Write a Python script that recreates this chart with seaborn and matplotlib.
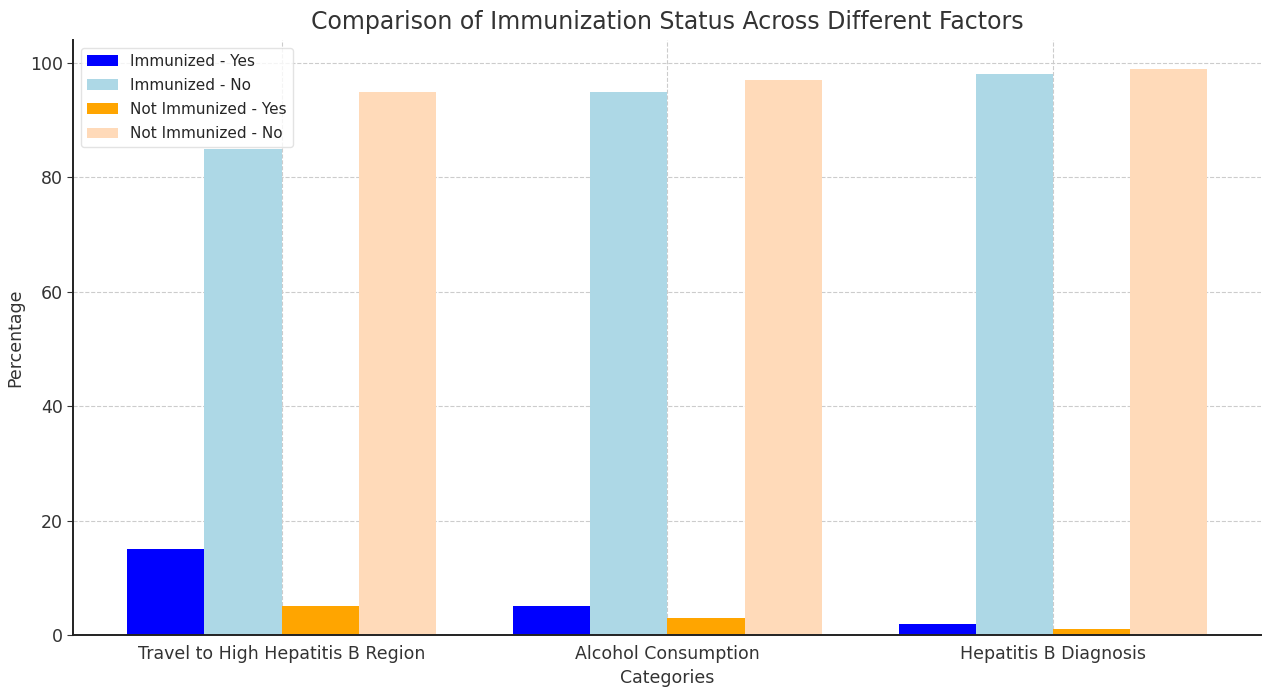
import matplotlib
matplotlib.use("Agg")
import matplotlib.pyplot as plt
import seaborn as sns
import pandas as pd

categories = ["Travel to High Hepatitis B Region", "Alcohol Consumption", "Hepatitis B Diagnosis"]
series = ["Immunized - Yes", "Immunized - No", "Not Immunized - Yes", "Not Immunized - No"]
immunized_yes = [15, 5, 2]
immunized_no = [85, 95, 98]
not_immunized_yes = [5, 3, 1]
not_immunized_no = [95, 97, 99]
colors = ["blue", "lightblue", "orange", "peachpuff"]

rows = []
for name, vals in zip(series, [immunized_yes, immunized_no, not_immunized_yes, not_immunized_no]):
    for cat, v in zip(categories, vals):
        rows.append({"Categories": cat, "Group": name, "Percentage": v})
df = pd.DataFrame(rows)

sns.set_style("whitegrid", {"grid.linestyle": "--", "grid.color": "#cccccc"})
plt.rcParams["font.family"] = ["DejaVu Sans"]

fig = plt.figure(figsize=(12.64, 6.91), dpi=100)
ax = fig.add_axes([0.058, 0.081, 0.94, 0.861])

sns.barplot(data=df, x="Categories", y="Percentage", hue="Group",
            hue_order=series, palette=colors, saturation=1, width=0.8,
            ax=ax, errorbar=None, linewidth=0)

ax.set_title("Comparison of Immunization Status Across Different Factors",
             fontsize=17, color="#333333", pad=8)
ax.set_xlabel("Categories", fontsize=12.5, color="#333333")
ax.set_ylabel("Percentage", fontsize=12.5, color="#333333")
ax.tick_params(axis="both", labelsize=12.5, colors="#333333", length=4, left=True, bottom=False)
ax.grid(True, linestyle="--", color="#cccccc", linewidth=0.8)
ax.set_axisbelow(True)
sns.despine(ax=ax)
for s in ["left", "bottom"]:
    ax.spines[s].set_color("#222222")
    ax.spines[s].set_linewidth(1.4)
ax.set_ylim(0, 104)
ax.set_xlim(-0.54, 2.54)

leg = ax.legend(loc="upper left", fontsize=11, frameon=True, title=None,
                labelspacing=0.6)
leg.get_frame().set_edgecolor("#dddddd")

fig.savefig("out.png", dpi=100)
